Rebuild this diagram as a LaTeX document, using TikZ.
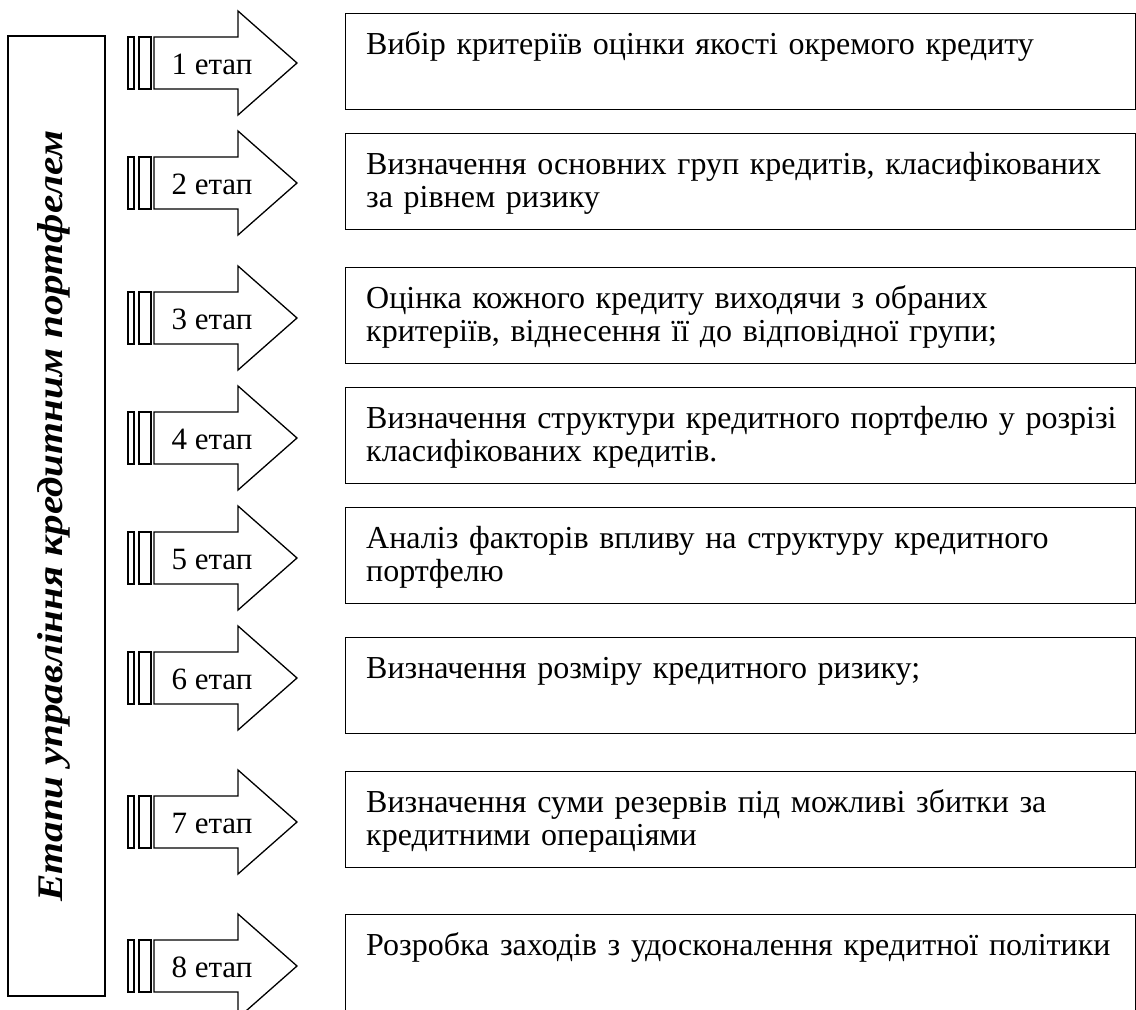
\documentclass[tikz,border=0pt]{standalone}
\usepackage{fontspec}
\setmainfont{Liberation Serif}
\newfontfamily\titlefont{Liberation Serif}[FakeStretch=1.14]
\usetikzlibrary{positioning}

\tikzset{
  framebox/.style={draw, line width=1.4pt, minimum width=790pt, minimum height=96pt,
    anchor=north west, inner sep=0pt},
  framelbl/.style={anchor=base west, inner sep=0pt, text width=770pt, align=left,
    font=\fontsize{32}{33}\selectfont},
  etaplbl/.style={anchor=base, inner sep=0pt, font=\fontsize{31}{33}\selectfont},
  etapline/.style={line width=1.3pt, line join=miter},
}

\begin{document}
\begin{tikzpicture}[x=1pt,y=-1pt]
	\useasboundingbox (0,0) rectangle (1136,1010);
	% left frame with title
	\draw[line width=1.4pt] (8,36) rectangle (105,996);
	\node[rotate=90, font=\titlefont\fontsize{36}{40}\selectfont\bfseries\itshape] (title) at (54,516) {Етапи управління кредитним портфелем};
	% stages: number / arrow tip y / frame top y / text
	\foreach \n/\c/\t/\txt in {
		1/63/13/{Вибір критеріїв оцінки якості окремого кредиту},
		2/183/133/{Визначення основних груп кредитів, класифікованих\\за рівнем ризику},
		3/318/267/{Оцінка кожного кредиту виходячи з обраних\\критеріїв, віднесення її до відповідної групи;},
		4/438/387/{Визначення структури кредитного портфелю у розрізі\\класифікованих кредитів.},
		5/558/507/{Аналіз факторів впливу на структуру кредитного\\портфелю},
		6/678/637/{Визначення розміру кредитного ризику;},
		7/822/771/{Визначення суми резервів під можливі збитки за\\кредитними операціями},
		8/966/914/{Розробка заходів з удосконалення кредитної політики}}
	{
		\draw[etapline] (128,\c-26) rectangle (134,\c+26);
		\draw[etapline] (139,\c-26) rectangle (151,\c+26);
		\draw[etapline] (154,\c-26) -- (238,\c-26) -- (238,\c-52) -- (297,\c) -- (238,\c+52) -- (238,\c+26) -- (154,\c+26) -- cycle;
		\node[etaplbl] (s\n) at (212,\c+11) {\n\ етап};
		\node[framebox] (b\n) at (345,\t) {};
		\node[framelbl] (t\n) at (366,\t+41) {\txt};
	}
\end{tikzpicture}
\end{document}
